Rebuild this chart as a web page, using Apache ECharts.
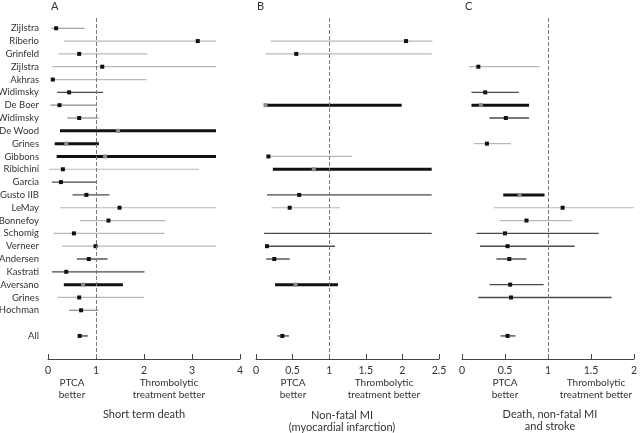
<!DOCTYPE html>
<html>
<head>
<meta charset="utf-8">
<script src="https://cdn.jsdelivr.net/npm/echarts@6/dist/echarts.min.js"></script>
<style>
  html, body { margin: 0; padding: 0; background: #fff; }
  #chart { width: 640px; height: 433px; }
</style>
</head>
<body>
<div id="chart"></div>
<script>
// rows top to bottom; the empty row separates the pooled result
const rowNames = ["Zijlstra", "Riberio", "Grinfeld", "Zijlstra", "Akhras", "Widimsky", "De Boer", "Widimsky",
  "De Wood", "Grines", "Gibbons", "Ribichini", "Garcia", "Gusto IIB", "LeMay", "Bonnefoy", "Schomig",
  "Verneer", "Andersen", "Kastrati", "Aversano", "Grines", "Hochman", "", "All"];

// A: short term death (odds ratio, low / estimate / high); class = shade of the CI line
const loA  = [0.07, 0.33, 0.22, 0.09, 0.08, 0.19, 0.05, 0.40, 0.25, 0.14, 0.18, 0.03, 0.08, 0.51, 0.25, 0.66, 0.12, 0.29, 0.60, 0.08, 0.33, 0.20, 0.44, null, 0.62];
const estA = [0.17, 3.12, 0.65, 1.13, 0.10, 0.44, 0.24, 0.65, 1.46, 0.38, 1.19, 0.31, 0.27, 0.80, 1.49, 1.26, 0.54, 0.99, 0.85, 0.38, 0.73, 0.65, 0.69, null, 0.66];
const hiA  = [0.76, 3.5, 2.07, 3.5, 2.05, 1.15, 1.0, 1.05, 3.5, 1.06, 3.5, 3.15, 1.0, 1.28, 3.5, 2.45, 2.43, 3.5, 1.24, 2.01, 1.56, 2.0, 1.05, null, 0.83];
const clsA = [1, 0, 0, 0, 0, 2, 1, 1, 3, 3, 3, 0, 2, 2, 0, 0, 0, 0, 2, 2, 3, 0, 1, null, 2];

// B: non-fatal MI
const loB  = [null, 0.20, 0.13, null, null, null, 0.11, null, null, null, 0.14, 0.23, null, 0.15, 0.21, null, 0.11, 0.13, 0.14, null, 0.26, null, null, null, 0.29];
const estB = [null, 2.05, 0.55, null, null, null, 0.13, null, null, null, 0.17, 0.79, null, 0.59, 0.46, null, null, 0.15, 0.25, null, 0.54, null, null, null, 0.36];
const hiB  = [null, 2.41, 2.40, null, null, null, 1.99, null, null, null, 1.31, 2.40, null, 2.40, 1.15, null, 2.40, 1.08, 0.46, null, 1.12, null, null, null, 0.45];
const clsB = [null, 0, 0, null, null, null, 3, null, null, null, 0, 3, null, 2, 0, null, 2, 2, 2, null, 3, null, null, null, 2];

// C: death, non-fatal MI and stroke
const loC  = [null, null, null, 0.08, null, 0.11, 0.11, 0.32, null, 0.14, null, null, null, 0.48, 0.37, 0.44, 0.17, 0.21, 0.40, null, 0.32, 0.19, null, null, 0.45];
const estC = [null, null, null, 0.19, null, 0.27, 0.22, 0.51, null, 0.29, null, null, null, 0.67, 1.17, 0.75, 0.50, 0.53, 0.55, null, 0.56, 0.57, null, null, 0.53];
const hiC  = [null, null, null, 0.90, null, 0.66, 0.78, 0.78, null, 0.57, null, null, null, 0.96, 2.0, 1.28, 1.59, 1.31, 0.75, null, 0.95, 1.74, null, null, 0.62];
const clsC = [null, null, null, 0, null, 2, 3, 2, null, 0, null, null, null, 3, 0, 0, 2, 2, 2, null, 2, 2, null, null, 2];

const ticksA = { min: 0, max: 4, interval: 1 };
const ticksB = { min: 0, max: 2.5, interval: 0.5 };
const ticksC = { min: 0, max: 2, interval: 0.5 };

const FONT = "Lato";
const TEXT = "#333";
const SHADES = [
  { color: "#b8b8b8", width: 1.2 },
  { color: "#8a8a8a", width: 1.2 },
  { color: "#4a4a4a", width: 1.4 },
  { color: "#111111", width: 3 },
];

function rows(lo, est, hi, cls) {
  const out = [];
  lo.forEach((v, i) => {
    if (v == null) return;
    out.push([i, v, est[i] == null ? "-" : est[i], hi[i], cls[i]]);
  });
  return out;
}

function renderCI(params, api) {
  const row = api.value(0);
  const st = SHADES[api.value(4)];
  const a = api.coord([api.value(1), row]);
  const b = api.coord([api.value(3), row]);
  const kids = [{
    type: "line",
    shape: { x1: a[0], y1: a[1], x2: b[0], y2: b[1] },
    style: { stroke: st.color, lineWidth: st.width },
  }];
  const est = api.value(2);
  if (!isNaN(est)) {
    const p = api.coord([est, row]);
    kids.push({
      type: "rect",
      shape: { x: p[0] - 2, y: p[1] - 2, width: 4, height: 4 },
      style: { fill: api.value(4) === 3 ? "#8c8c8c" : "#111" },
    });
  }
  return { type: "group", children: kids };
}

function renderName(params, api) {
  const p = api.coord([0, api.value(0)]);
  return {
    type: "text",
    x: p[0] - 9, y: p[1],
    style: { text: rowNames[api.value(0)], align: "right", verticalAlign: "middle",
      fill: TEXT, font: "9.5px " + FONT },
  };
}

const refLine = {
  silent: true, symbol: "none", label: { show: false },
  lineStyle: { type: "dashed", color: "#7a7a7a", width: 1 },
  data: [{ xAxis: 1 }],
};

const grids = [
  { left: 48, width: 192, top: 18, bottom: 74 },
  { left: 256, width: 183, top: 18, bottom: 74 },
  { left: 462, width: 174.5, top: 18, bottom: 74 },
];

function xAxis(i, t) {
  return {
    type: "value", gridIndex: i, min: t.min, max: t.max, interval: t.interval,
    position: "bottom",
    axisLine: { onZero: false, lineStyle: { color: "#444", width: 1 } },
    axisTick: { inside: true, length: 5, lineStyle: { color: "#444" } },
    axisLabel: { color: TEXT, fontFamily: FONT, fontSize: 10.5, margin: 6 },
    splitLine: { show: false },
  };
}

function yAxis(i) {
  return { type: "value", gridIndex: i, inverse: true, min: -0.8, max: 25.8, show: false };
}

function txt(x, y, text, size) {
  return { type: "text", x, y,
    style: { text, align: "center", verticalAlign: "middle", fill: TEXT,
      font: (size || 10) + "px " + FONT, lineHeight: 12 } };
}

const chart = echarts.init(document.getElementById("chart"));
chart.setOption({
  animation: false,
  grid: grids,
  xAxis: [xAxis(0, ticksA), xAxis(1, ticksB), xAxis(2, ticksC)],
  yAxis: [yAxis(0), yAxis(1), yAxis(2)],
  series: [
    { type: "custom", xAxisIndex: 0, yAxisIndex: 0, renderItem: renderName, clip: false,
      data: rowNames.map((n, i) => [i, 0]).filter((d) => rowNames[d[0]] !== ""),
      encode: { x: 1, y: 0 }, silent: true },
    { type: "custom", xAxisIndex: 0, yAxisIndex: 0, renderItem: renderCI,
      data: rows(loA, estA, hiA, clsA), encode: { x: [1, 2, 3], y: 0 }, markLine: refLine },
    { type: "custom", xAxisIndex: 1, yAxisIndex: 1, renderItem: renderCI,
      data: rows(loB, estB, hiB, clsB), encode: { x: [1, 2, 3], y: 0 }, markLine: refLine },
    { type: "custom", xAxisIndex: 2, yAxisIndex: 2, renderItem: renderCI,
      data: rows(loC, estC, hiC, clsC), encode: { x: [1, 2, 3], y: 0 }, markLine: refLine },
  ],
  graphic: [
    { type: "text", x: 51, y: 6, style: { text: "A", fill: TEXT, font: "11px " + FONT, verticalAlign: "middle" } },
    { type: "text", x: 257, y: 6, style: { text: "B", fill: TEXT, font: "11px " + FONT, verticalAlign: "middle" } },
    { type: "text", x: 465, y: 6, style: { text: "C", fill: TEXT, font: "11px " + FONT, verticalAlign: "middle" } },
    txt(72, 389, "PTCA\nbetter"),
    txt(169, 389, "Thrombolytic\ntreatment better"),
    txt(144, 414, "Short term death", 11),
    txt(293, 389, "PTCA\nbetter"),
    txt(384, 389, "Thrombolytic\ntreatment better"),
    txt(342, 421, "Non-fatal MI\n(myocardial infarction)", 11),
    txt(505, 389, "PTCA\nbetter"),
    txt(596, 389, "Thrombolytic\ntreatment better"),
    txt(550, 420, "Death, non-fatal MI\nand stroke", 11),
  ],
});
</script>
</body>
</html>
